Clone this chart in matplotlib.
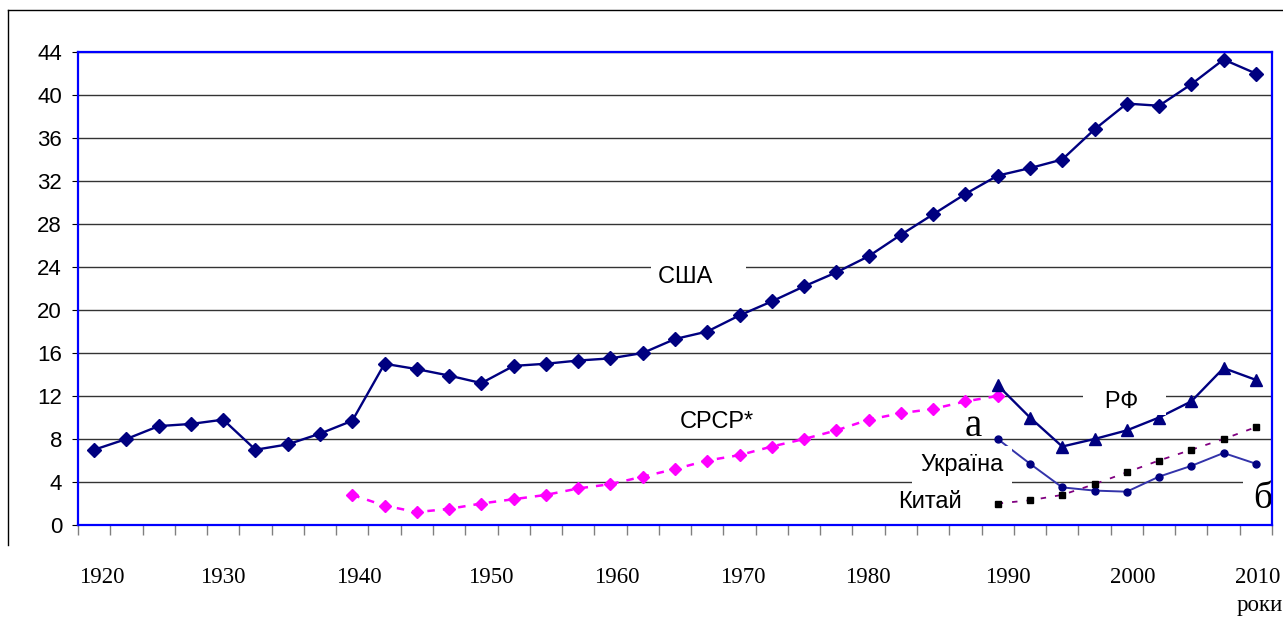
import matplotlib.pyplot as plt
import numpy as np
from matplotlib.lines import Line2D

# Дані
usa = [7.0, 8.0, 9.2, 9.4, 9.8, 7.0, 7.5, 8.5, 9.7, 15.0, 14.5, 13.9, 13.2,
       14.8, 15.0, 15.3, 15.5, 16.0, 17.3, 18.0, 19.5, 20.8, 22.2, 23.5,
       25.0, 27.0, 28.9, 30.8, 32.5, 33.2, 34.0, 36.8, 39.2, 39.0, 41.0,
       43.3, 42.0]
ussr = [2.8, 1.8, 1.2, 1.5, 2.0, 2.4, 2.8, 3.4, 3.8, 4.5, 5.2, 6.0, 6.5,
        7.3, 8.0, 8.8, 9.8, 10.4, 10.8, 11.5, 12.0]
rf = [13.0, 10.0, 7.3, 8.0, 8.8, 10.0, 11.5, 14.6, 13.5]
ukraine = [8.0, 5.7, 3.5, 3.2, 3.1, 4.5, 5.5, 6.7, 5.7]
china = [2.0, 2.3, 2.8, 3.8, 4.9, 6.0, 7.0, 8.0, 9.1]
decade_labels = ['1920', '1930', '1940', '1950', '1960', '1970', '1980',
                 '1990', '2000', '2010']

USSR_START = 8      # номер першої точки СРСР
LATE_START = 28     # номер першої точки РФ / України / Китаю

idx = np.arange(len(usa))
x_ussr = idx[USSR_START:USSR_START + len(ussr)]
x_late = idx[LATE_START:LATE_START + len(rf)]

fig = plt.figure(figsize=(12.83, 6.17), dpi=100)
ax = fig.add_axes([78 / 1283, 92 / 617, 1194 / 1283, 473 / 617])

ax.plot(idx, usa, color='#000080', lw=1.7, marker='D', ms=7, zorder=3,
        clip_on=False)
ax.plot(x_ussr, ussr, color='#FF00FF', lw=1.8, ls=(0, (3, 3.2)), marker='D',
        ms=6.5, zorder=3)
ax.plot(x_late, rf, color='#000080', lw=1.7, marker='^', ms=8.5, zorder=3)
ax.plot(x_late, ukraine, color='#3333AA', lw=1.4, marker='o', ms=5,
        mfc='#000080', mec='#000080', zorder=3)
ax.plot(x_late, china, color='#800080', lw=1.3, ls=(0, (3, 5)), marker='s',
        ms=5, mfc='black', mec='black', zorder=3)

ax.set_xlim(-0.5, len(usa) - 0.5)
ax.set_ylim(0, 44)
ax.set_yticks(np.arange(0, 45, 4))
ax.yaxis.grid(True, color='#333333', lw=1)
ax.set_axisbelow(True)
ax.tick_params(axis='y', direction='out', length=4.5, width=0.8, pad=7,
               labelsize=16, colors='black')
for lab in ax.get_yticklabels():
    lab.set_fontfamily('Liberation Sans')

# підписи років - окремо від поділок категорій
decade_x = [0.25, 3.98, 8.21, 12.3, 16.21, 20.11, 23.98, 28.33, 32.17, 36.07]
ax.set_xticks(decade_x)
ax.set_xticklabels(decade_labels, fontfamily='Liberation Serif', fontsize=16.5)
ax.tick_params(axis='x', which='major', length=0, pad=30)
ax.set_xticks(np.arange(-0.5, len(usa), 1), minor=True)
ax.tick_params(axis='x', which='minor', direction='out', length=7,
               width=1, color='#808080')

for s in ax.spines.values():
    s.set_color('#0000FF')
    s.set_linewidth(1.6)
    s.set_zorder(6)

sans = 'Liberation Sans'
serif = 'Liberation Serif'
ax.text(17.48, 23.05, 'США    ', fontsize=17, family=sans, ha='left',
        va='center', zorder=5,
        bbox=dict(facecolor='white', edgecolor='none',
                  boxstyle='square,pad=0.3'))
ax.text(19.3, 9.6, 'СРСР*', fontsize=17, family=sans, ha='center',
        va='center', zorder=5)
ax.text(30.7, 11.45, '   РФ    ', fontsize=17, family=sans, ha='left',
        va='center', zorder=5,
        bbox=dict(facecolor='white', edgecolor='none',
                  boxstyle='square,pad=0.08'))
ax.text(27.24, 8.3, 'а', fontsize=28, family=serif, ha='center',
        va='baseline', zorder=5)
ax.text(26.9, 5.55, 'Україна', fontsize=17, family=sans, ha='center',
        va='center', zorder=5,
        bbox=dict(facecolor='white', edgecolor='none',
                  boxstyle='square,pad=0.35'))
ax.text(25.9, 2.1, 'Китай', fontsize=17, family=sans, ha='center',
        va='center', zorder=5)
ax.text(36.2, 1.6, 'б', fontsize=27, family=serif, ha='center',
        va='baseline', zorder=5, clip_on=False,
        bbox=dict(facecolor='white', edgecolor='none',
                  boxstyle='square,pad=0.25'))

fig.text(1260 / 1283, 1 - 605 / 617, 'роки', fontsize=16.5, family=serif,
         ha='center', va='center')

# рамка області діаграми
fig.add_artist(Line2D([8 / 1283, 8 / 1283], [1 - 545 / 617, 1 - 10 / 617],
                      color='black', lw=1))
fig.add_artist(Line2D([8 / 1283, 1.0], [1 - 10 / 617, 1 - 10 / 617],
                      color='black', lw=1))

fig.savefig('out.png', dpi=100)
